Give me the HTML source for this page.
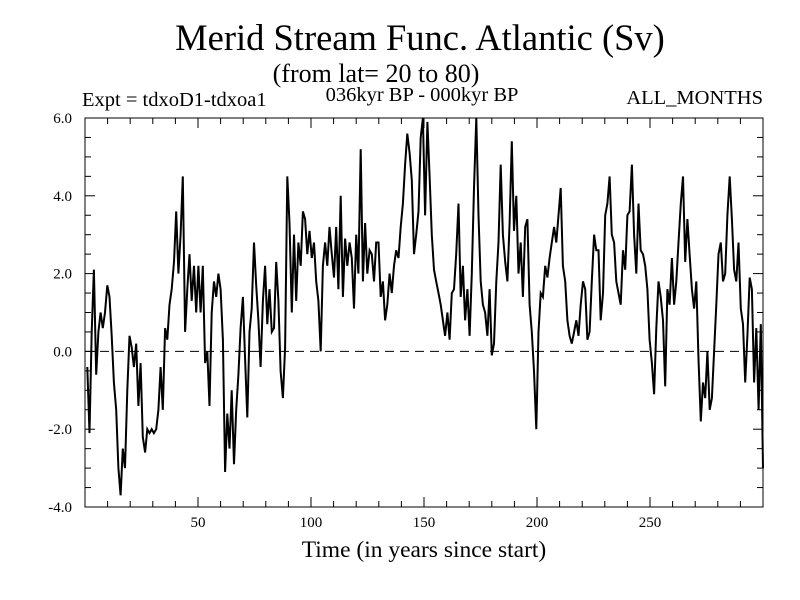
<!DOCTYPE html>
<html><head><meta charset="utf-8"><style>
body{margin:0;background:#fff;}
svg{display:block;font-family:"Liberation Serif",serif;}
</style></head><body>
<svg id="chart" width="800" height="600" xmlns="http://www.w3.org/2000/svg">
<rect width="800" height="600" fill="#fff"/>
<text x="420" y="50" font-size="36.5" text-anchor="middle">Merid Stream Func. Atlantic (Sv)</text>
<text x="376" y="82" font-size="26" text-anchor="middle">(from lat= 20 to 80)</text>
<text x="82" y="106" font-size="20.5">Expt = tdxoD1-tdxoa1</text>
<text x="422" y="101" font-size="20.5" text-anchor="middle">036kyr BP - 000kyr BP</text>
<text x="763" y="104" font-size="20.5" text-anchor="end">ALL_MONTHS</text>
<text x="424" y="557" font-size="23.5" text-anchor="middle">Time (in years since start)</text>
<g id="axes"></g>
<g id="series"></g>
</svg>
<script>
const xTickLabels=[50,100,150,200,250];
const yTickLabels=["-4.0","-2.0","0.0","2.0","4.0","6.0"];
const values=[
-0.4,-2.1,0.5,2.1,-0.6,0.5,1.0,0.6,1.0,1.7,
1.4,0.4,-0.8,-1.5,-3.0,-3.7,-2.5,-3.0,-1.0,0.4,
0.1,-0.4,0.2,-1.4,-0.3,-2.2,-2.6,-2.0,-2.1,-2.0,
-2.1,-2.0,-1.5,-0.4,-1.5,0.6,0.3,1.2,1.6,2.3,
3.6,2.0,3.0,4.5,0.5,1.6,2.5,1.3,2.2,1.0,
2.2,1.0,2.2,-0.3,0.0,-1.4,1.0,1.8,1.4,2.0,
1.6,0.3,-3.1,-1.6,-2.5,-1.0,-2.9,-1.5,-0.6,0.6,
1.4,-0.2,-1.7,0.5,1.1,2.8,1.7,0.8,-0.4,1.3,
2.2,0.7,1.6,0.5,0.6,2.3,1.3,-0.5,-1.2,0.1,
4.5,3.3,1.0,3.0,1.3,2.8,2.2,3.6,3.4,2.5,
3.1,2.4,2.8,1.8,1.3,0.0,2.2,2.8,2.2,3.2,
2.5,1.9,3.2,1.6,4.0,1.4,2.9,2.2,2.8,2.4,
1.1,3.0,2.0,5.2,1.8,3.3,2.0,2.6,2.5,1.8,
2.8,2.8,1.4,1.8,0.8,1.2,2.0,1.5,2.2,2.6,
2.4,3.2,3.8,4.8,5.6,5.1,4.4,2.5,3.0,3.6,
5.5,6.0,3.5,5.9,4.5,3.0,2.1,1.8,1.5,1.2,
0.8,0.4,1.0,0.3,1.5,1.6,2.5,3.8,1.4,2.2,
0.8,1.6,0.4,2.0,4.2,6.0,3.5,1.8,1.2,1.0,
0.4,1.6,-0.1,0.2,1.8,2.8,4.8,3.0,2.3,1.8,
3.3,5.4,3.1,4.0,2.0,2.8,1.4,3.2,3.4,1.2,
0.5,-0.5,-2.0,0.5,1.5,1.4,2.2,1.9,2.4,2.8,
3.2,2.8,3.5,4.2,2.2,1.8,0.8,0.4,0.2,0.5,
0.8,0.4,1.2,1.8,1.6,0.3,0.5,1.8,3.0,2.6,
2.6,0.8,1.5,3.5,3.8,4.5,3.0,2.8,1.8,1.5,
1.2,2.6,2.1,3.5,3.6,4.8,3.0,2.0,3.8,2.6,
2.5,2.2,1.6,0.3,-0.3,-1.1,0.6,1.8,1.4,0.8,
-0.9,1.6,1.2,2.4,1.2,1.8,2.8,3.8,4.5,2.3,
3.4,2.5,1.6,1.1,1.8,-0.2,-1.8,-0.8,-1.2,0.0,
-1.5,-1.2,0.0,1.2,2.5,2.8,1.8,2.0,3.5,4.5,
3.4,2.1,1.8,2.8,1.1,0.7,-0.8,0.4,1.9,1.6,
-0.8,0.6,-1.5,0.7,-3.0];
const years=values.map((v,i)=>1+i*299/(values.length-1));

const L=85,R=763,T=118,B=507,NS="http://www.w3.org/2000/svg";
const xS=v=>L+(v-0)*(R-L)/300;
const yS=v=>B-(v+4)*(B-T)/10;
const axes=document.getElementById('axes');
function mk(tag,attrs,parent){const e=document.createElementNS(NS,tag);for(const k in attrs)e.setAttribute(k,attrs[k]);parent.appendChild(e);return e;}
const frame=mk('rect',{x:L,y:T,width:R-L,height:B-T,fill:'none',stroke:'#000','stroke-width':1},axes);


const zero=mk('line',{x1:L,x2:R,y1:yS(0),y2:yS(0),stroke:'#000','stroke-dasharray':'9,6','stroke-width':1},axes);


for(let t=10;t<300;t+=10){const maj=t%50===0,len=maj?10:6;
 const a=mk('line',{x1:xS(t),x2:xS(t),y1:B,y2:B-len,stroke:'#000'},axes);
 
 
 const b=mk('line',{x1:xS(t),x2:xS(t),y1:T,y2:T+len,stroke:'#000'},axes);
 
 }
for(let v=-3.5;v<6;v+=0.5){const maj=Math.abs(v%2)<1e-6,len=maj?10:6;
 const a=mk('line',{x1:L,x2:L+len,y1:yS(v),y2:yS(v),stroke:'#000'},axes);
 
 
 const b=mk('line',{x1:R,x2:R-len,y1:yS(v),y2:yS(v),stroke:'#000'},axes);
 
 }
xTickLabels.forEach(t=>{const e=mk('text',{x:xS(t),y:B+20,'font-size':15,'text-anchor':'middle'},axes);e.textContent=t;
 
 });
yTickLabels.forEach(s=>{const e=mk('text',{x:L-13,y:yS(parseFloat(s))+5,'font-size':15,'text-anchor':'end'},axes);e.textContent=s;
 
 });
const d=values.map((v,i)=>(i?'L':'M')+xS(years[i]).toFixed(1)+','+yS(v).toFixed(1)).join('');
const p=mk('path',{d:d,fill:'none',stroke:'#000','stroke-width':2},document.getElementById('series'));


</script>
</body></html>
